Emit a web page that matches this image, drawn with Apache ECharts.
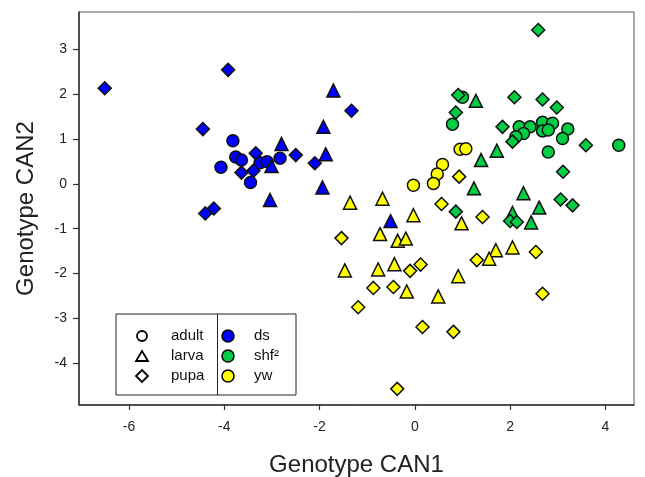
<!DOCTYPE html>
<html>
<head>
<meta charset="utf-8">
<script src="https://cdn.jsdelivr.net/npm/echarts@6/dist/echarts.min.js"></script>
<style>
  html, body { margin: 0; padding: 0; background: #fff; }
  #chart { width: 645px; height: 477px; }
</style>
</head>
<body>
<div id="chart"></div>
<script>
// groups
const stages = ["adult", "larva", "pupa"];
const stageSymbols = ["circle", "triangle", "diamond"];
const genotypes = ["ds", "shf²", "yw"];
const genotypeColors = ["#0000ff", "#00cc44", "#ffff00"];

// tick values
const xTicks = [-6, -4, -2, 0, 2, 4];
const yTicks = [-4, -3, -2, -1, 0, 1, 2, 3];

// [CAN1, CAN2] per genotype x stage
const dsAdult = [[-3.82, 0.96], [-3.76, 0.60], [-3.64, 0.53], [-4.07, 0.37], [-3.25, 0.47],
  [-3.10, 0.49], [-2.83, 0.57], [-3.45, 0.03]];
const dsLarva = [[-1.71, 2.08], [-1.92, 1.27], [-2.80, 0.89], [-1.87, 0.66], [-3.01, 0.40],
  [-1.94, -0.08], [-3.04, -0.36], [-0.51, -0.83]];
const dsPupa = [[-6.51, 2.13], [-3.92, 2.54], [-1.33, 1.63], [-4.45, 1.22], [-2.50, 0.64],
  [-2.10, 0.46], [-3.34, 0.68], [-3.64, 0.25], [-3.39, 0.29], [-4.40, -0.66], [-4.22, -0.55]];

const shfAdult = [[1.00, 1.93], [0.79, 1.33], [2.19, 1.27], [2.42, 1.27], [2.68, 1.37],
  [2.89, 1.35], [2.68, 1.18], [2.80, 1.20], [2.28, 1.12], [2.12, 1.05], [3.21, 1.22],
  [3.10, 1.01], [4.28, 0.86], [2.80, 0.71]];
const shfLarva = [[1.28, 1.85], [1.72, 0.74], [1.39, 0.53], [1.24, -0.10], [2.28, -0.21],
  [2.61, -0.53], [2.05, -0.65], [2.44, -0.86]];
const shfPupa = [[2.59, 3.43], [0.91, 1.98], [2.09, 1.93], [2.68, 1.88], [2.98, 1.70],
  [0.86, 1.59], [1.84, 1.27], [2.05, 0.94], [3.59, 0.86], [3.11, 0.27], [3.06, -0.35],
  [3.31, -0.48], [0.86, -0.62], [2.00, -0.83], [2.14, -0.85]];

const ywAdult = [[0.95, 0.77], [1.07, 0.78], [0.58, 0.43], [0.47, 0.22], [0.39, 0.01], [-0.03, -0.03]];
const ywLarva = [[-1.36, -0.42], [-0.68, -0.33], [-0.03, -0.70], [0.98, -0.88], [-0.73, -1.12],
  [-0.36, -1.27], [-0.19, -1.22], [1.70, -1.48], [2.05, -1.42], [1.56, -1.67], [-1.47, -1.93],
  [-0.77, -1.91], [-0.43, -1.79], [0.91, -2.06], [-0.17, -2.40], [0.49, -2.51]];
const ywPupa = [[0.93, 0.16], [0.56, -0.45], [1.42, -0.74], [-1.54, -1.21], [2.54, -1.52],
  [1.30, -1.70], [-0.10, -1.94], [0.12, -1.80], [-0.87, -2.32], [-0.45, -2.30], [2.68, -2.45],
  [-1.19, -2.75], [0.16, -3.19], [0.81, -3.30], [-0.37, -4.57]];

const groupData = [
  [dsAdult, dsLarva, dsPupa],
  [shfAdult, shfLarva, shfPupa],
  [ywAdult, ywLarva, ywPupa],
];

const font = "'Liberation Sans', Arial, sans-serif";
const symbolSizes = { circle: 12, triangle: 13, diamond: 13 };

const series = [];
genotypes.forEach((g, gi) => {
  stages.forEach((s, si) => {
    series.push({
      name: g + " " + s,
      type: "scatter",
      symbol: stageSymbols[si],
      symbolSize: symbolSizes[stageSymbols[si]],
      itemStyle: {
        color: genotypeColors[gi],
        borderColor: "#111",
        borderWidth: 1.5,
        opacity: 1,
      },
      emphasis: { disabled: true },
      data: groupData[gi][si],
    });
  });
});

// legend box (drawn as graphic, two columns)
const legendLeft = 116, legendTop = 314, legendW = 180, legendH = 81, legendDiv = 217.5;
const rowY = [336, 356, 376];
const legendGraphics = [
  { type: "rect", shape: { x: legendLeft, y: legendTop, width: legendW, height: legendH },
    style: { fill: "#fff", stroke: "#222", lineWidth: 1 }, z: 100 },
  { type: "line", shape: { x1: legendDiv, y1: legendTop, x2: legendDiv, y2: legendTop + legendH },
    style: { stroke: "#222", lineWidth: 1 }, z: 101 },
];
const outline = { fill: "none", stroke: "#000", lineWidth: 1.8 };
legendGraphics.push({ type: "circle", shape: { cx: 142, cy: rowY[0], r: 5 }, style: outline, z: 101 });
legendGraphics.push({ type: "polygon", shape: { points: [[136, rowY[1] + 5], [148, rowY[1] + 5], [142, rowY[1] - 5]] }, style: outline, z: 101 });
legendGraphics.push({ type: "polygon", shape: { points: [[142, rowY[2] - 6], [148, rowY[2]], [142, rowY[2] + 6], [136, rowY[2]]] }, style: outline, z: 101 });
stages.forEach((s, i) => {
  legendGraphics.push({ type: "text", x: 171, y: rowY[i],
    style: { text: s, fill: "#111", font: "15px " + font, textVerticalAlign: "middle" }, z: 101 });
});
genotypes.forEach((g, i) => {
  legendGraphics.push({ type: "circle", shape: { cx: 228, cy: rowY[i], r: 6 },
    style: { fill: genotypeColors[i], stroke: "#000", lineWidth: 1.5 }, z: 101 });
  legendGraphics.push({ type: "text", x: 254, y: rowY[i],
    style: { text: g, fill: "#111", font: "15px " + font, textVerticalAlign: "middle" }, z: 101 });
});

const chart = echarts.init(document.getElementById("chart"));
chart.setOption({
  animation: false,
  textStyle: { fontFamily: font },
  grid: {
    left: 79, right: 11, top: 12, bottom: 72,
    outerBoundsMode: "none",
    show: true, borderColor: "#555", borderWidth: 1, backgroundColor: "transparent",
  },
  xAxis: {
    type: "value",
    min: -7.05,
    max: 4.6,
    name: "Genotype CAN1",
    nameLocation: "middle",
    nameGap: 48,
    nameTextStyle: { fontSize: 24, color: "#222", fontFamily: font },
    axisLine: { onZero: false, lineStyle: { color: "#333", width: 1.5 } },
    axisTick: { customValues: xTicks, length: 5, lineStyle: { color: "#333", width: 1.2 } },
    axisLabel: { customValues: xTicks, fontSize: 14, color: "#222", margin: 15, fontFamily: font },
    splitLine: { show: false },
  },
  yAxis: {
    type: "value",
    min: -4.93,
    max: 3.83,
    name: "Genotype CAN2",
    nameLocation: "middle",
    nameGap: 41,
    nameTextStyle: { fontSize: 24, color: "#222", fontFamily: font },
    axisLine: { onZero: false, lineStyle: { color: "#333", width: 1.5 } },
    axisTick: { customValues: yTicks, length: 6, lineStyle: { color: "#333", width: 1.2 } },
    axisLabel: { customValues: yTicks, fontSize: 14, color: "#222", margin: 12, fontFamily: font },
    splitLine: { show: false },
  },
  graphic: legendGraphics,
  series: series,
});
</script>
</body>
</html>
